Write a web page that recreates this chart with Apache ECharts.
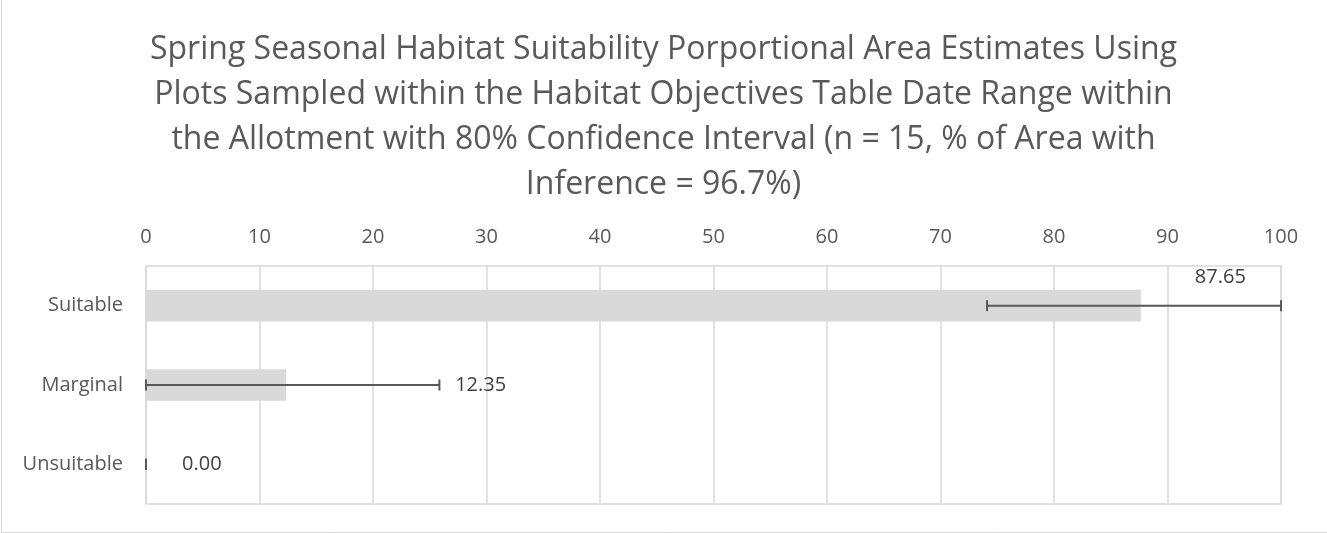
<!DOCTYPE html>
<html>
<head>
<meta charset="utf-8">
<script src="https://cdn.jsdelivr.net/npm/echarts@6/dist/echarts.min.js"></script>
<style>
  html, body { margin: 0; padding: 0; background: #ffffff; }
  #chart { width: 1327px; height: 533px; }
</style>
</head>
<body>
<div id="chart"></div>
<script>
const titleLines = [
  'Spring Seasonal Habitat Suitability Porportional Area Estimates Using',
  'Plots Sampled within the Habitat Objectives Table Date Range within',
  'the Allotment with 80% Confidence Interval (n = 15, % of Area with',
  'Inference = 96.7%)'
];
const categories = ['Suitable', 'Marginal', 'Unsuitable'];
const values = [87.65, 12.35, 0.00];
const errLow = [74.1, 0, 0];
const errHigh = [100, 25.85, 0];
const xTicks = [0, 10, 20, 30, 40, 50, 60, 70, 80, 90, 100];

const FONT = '"Open Sans", "Noto Sans", sans-serif';
const labelOffsets = [[54, -28], [169, 0], [36, 0]];

const chart = echarts.init(document.getElementById('chart'), null, { renderer: 'canvas' });

const option = {
  backgroundColor: '#ffffff',
  animation: false,
  title: {
    text: titleLines.join('\n'),
    left: 'center',
    top: 22,
    textStyle: {
      fontFamily: FONT,
      fontSize: 32,
      fontWeight: 'normal',
      color: '#595959',
      lineHeight: 45
    }
  },
  graphic: [{
    type: 'rect',
    silent: true,
    shape: { x: 1.5, y: -5, width: 1340, height: 537.5 },
    style: { fill: 'none', stroke: '#d9d9d9', lineWidth: 1 }
  }],
  grid: {
    left: 146, right: 46, top: 266, bottom: 29,
    show: true,
    borderColor: '#d9d9d9',
    borderWidth: 1.5,
    backgroundColor: 'transparent'
  },
  xAxis: {
    type: 'value',
    position: 'top',
    min: xTicks[0],
    max: xTicks[xTicks.length - 1],
    interval: xTicks[1] - xTicks[0],
    axisLine: { show: false },
    axisTick: { show: false },
    axisLabel: {
      color: '#595959', fontFamily: FONT, fontSize: 20, margin: 19,
      formatter: v => xTicks.includes(v) ? String(v) : ''
    },
    splitLine: { show: true, lineStyle: { color: '#d9d9d9', width: 1.5 } }
  },
  yAxis: {
    type: 'category',
    data: categories,
    inverse: true,
    axisLine: { show: false },
    axisTick: { show: false },
    axisLabel: { color: '#595959', fontFamily: FONT, fontSize: 20, margin: 23 },
    splitLine: { show: false }
  },
  series: [
    {
      type: 'bar',
      barWidth: '40%',
      itemStyle: { color: '#d9d9d9' },
      data: values.map((v, i) => ({
        value: v,
        label: {
          show: true,
          position: 'right',
          distance: 0,
          offset: labelOffsets[i],
          formatter: p => p.value.toFixed(2),
          color: '#404040',
          fontFamily: FONT,
          fontSize: 20
        }
      })),
      z: 2
    },
    {
      type: 'custom',
      z: 5,
      encode: { x: [1, 2], y: 0 },
      data: categories.map((c, i) => [i, errLow[i], errHigh[i]]),
      renderItem: (params, api) => {
        const cat = api.value(0);
        const p1 = api.coord([api.value(1), cat]);
        const p2 = api.coord([api.value(2), cat]);
        const h = 5.5;
        const style = { stroke: '#595959', lineWidth: 2, fill: 'none' };
        return {
          type: 'group',
          children: [
            { type: 'line', shape: { x1: p1[0], y1: p1[1], x2: p2[0], y2: p2[1] }, style },
            { type: 'line', shape: { x1: p1[0], y1: p1[1] - h, x2: p1[0], y2: p1[1] + h }, style },
            { type: 'line', shape: { x1: p2[0], y1: p2[1] - h, x2: p2[0], y2: p2[1] + h }, style }
          ]
        };
      }
    }
  ]
};
chart.setOption(option);
</script>
</body>
</html>
